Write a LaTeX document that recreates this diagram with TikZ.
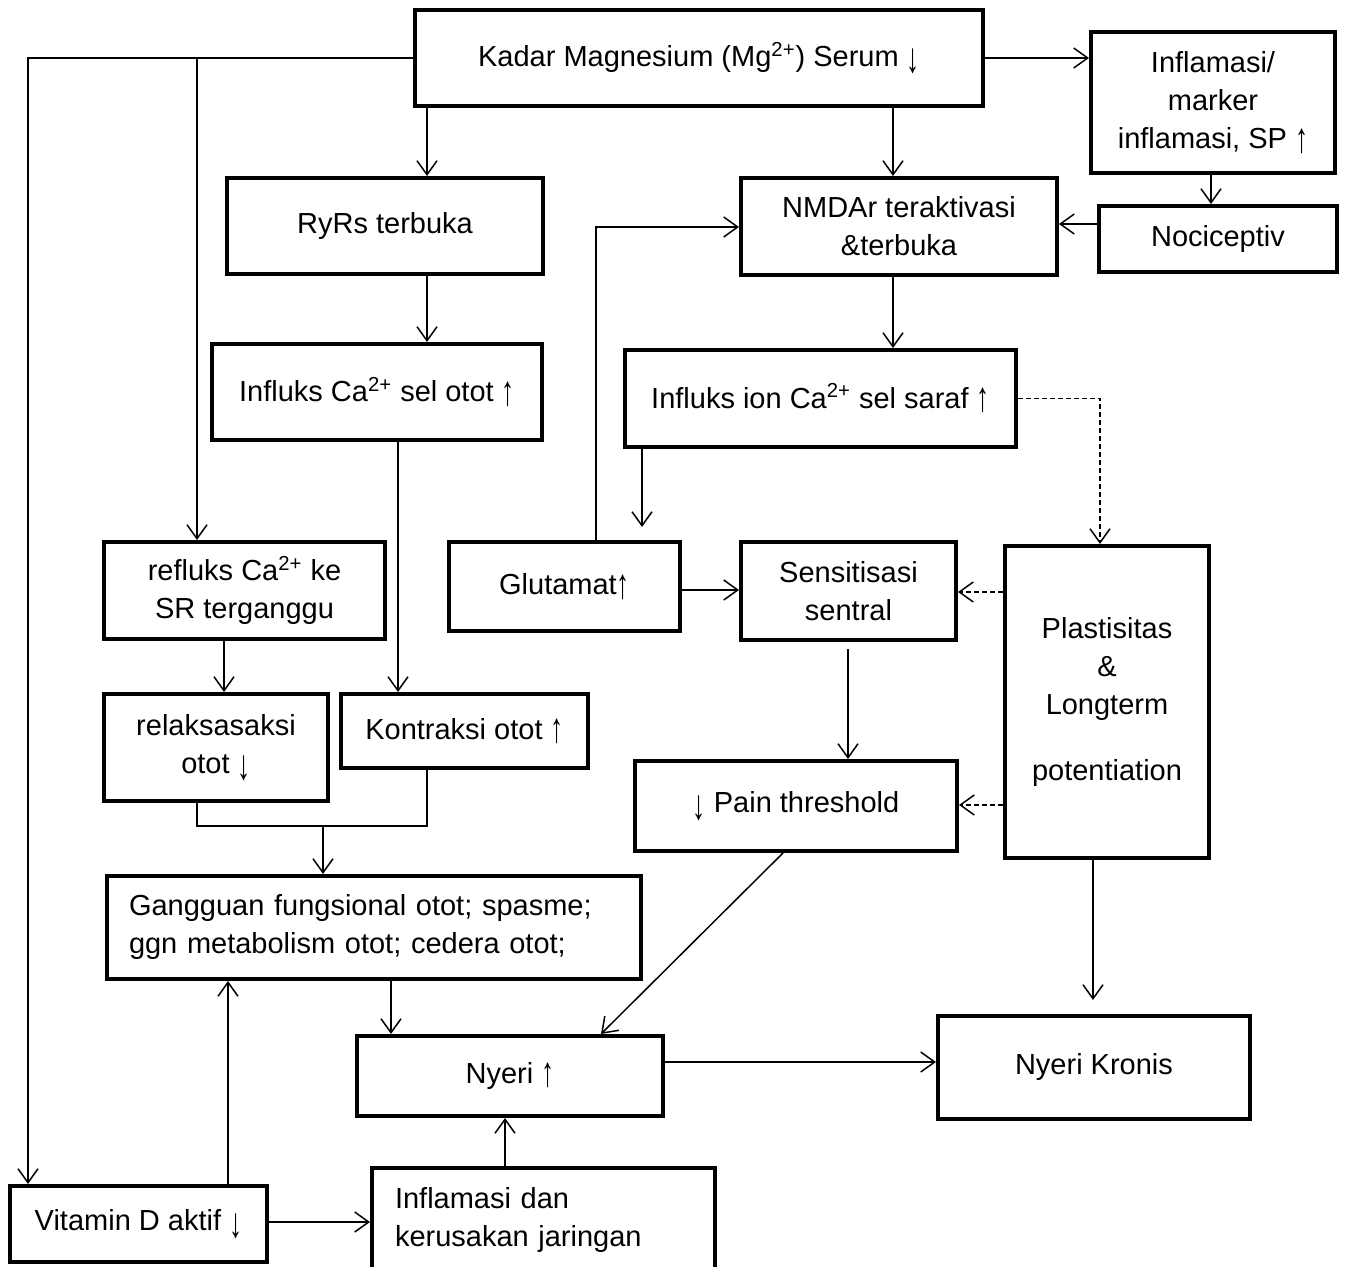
\documentclass[tikz,border=0pt]{standalone}
\usepackage{fontspec}
\setmainfont{Liberation Sans}
\usetikzlibrary{arrows.meta}
\newcommand\mybox[6]{\node[box,minimum width={(#4-#2)*0.5pt},minimum height={(#5-#3)*0.5pt}] (#1) at ({(#2+#4)/2},{(#3+#5)/2}) {#6};}
\newcommand\myup{\raisebox{-0.12em}{\scalebox{0.9}[1.45]{↑}}}
\newcommand\mydn{\raisebox{-0.22em}{\scalebox{0.9}[1.45]{↓}}}
\begin{document}
\begin{tikzpicture}[x=0.5pt,y=-0.5pt,
 box/.style={draw,line width=2pt,inner sep=0pt,align=center,font=\fontsize{14.5}{19}\selectfont},
 arr/.style={line width=0.75pt,-{Straight Barb[length=7pt,width=10pt]}},
 ln/.style={line width=0.75pt},
 dsh/.style={arr,dash pattern=on 2.5pt off 1.5pt}]
\useasboundingbox[fill=white] (0,0) rectangle (1346,1267);

\mybox{mg}{415}{10}{983}{106}{Kadar Magnesium (Mg\textsuperscript{2+}) Serum \mydn}
\mybox{infl}{1091}{32}{1335}{173}{Inflamasi/\\marker\\inflamasi, SP \myup}
\mybox{ryrs}{227}{178}{543}{274}{RyRs terbuka}
\mybox{nmda}{741}{178}{1057}{275}{NMDAr teraktivasi\\\&terbuka}
\mybox{noci}{1099}{206}{1337}{272}{Nociceptiv}
\mybox{otot}{212}{344}{542}{440}{Influks Ca\textsuperscript{2+} sel otot \myup}
\mybox{saraf}{625}{350}{1016}{447}{Influks ion Ca\textsuperscript{2+} sel saraf \myup}
\mybox{reflux}{104}{542}{385}{639}{refluks Ca\textsuperscript{2+} ke\\SR terganggu}
\mybox{glu}{449}{542}{680}{631}{Glutamat\myup}
\mybox{sens}{741}{542}{956}{640}{Sensitisasi\\sentral}
\mybox{plast}{1005}{546}{1209}{858}{Plastisitas\\\&\\Longterm\\[14pt]potentiation}
\mybox{relax}{104}{694}{328}{801}{relaksasaksi\\otot \mydn}
\mybox{kontr}{341}{694}{588}{768}{Kontraksi otot \myup}
\mybox{pain}{635}{761}{957}{851}{\mydn\ Pain threshold}
\node[box,align=left,text width=245pt,minimum width=267pt,minimum height=51.5pt] (gang) at (374,927.5)
 {Gangguan fungsional otot; spasme;\\ggn metabolism otot; cedera otot;};
\mybox{kronis}{938}{1016}{1250}{1119}{Nyeri Kronis}
\mybox{nyeri}{357}{1036}{663}{1116}{Nyeri \myup}
\mybox{vitd}{10}{1186}{267}{1262}{Vitamin D aktif \mydn}
\node[box,align=left,text width=148.5pt,minimum width=171.5pt,minimum height=52pt] (inkr) at (543.5,1220)
 {Inflamasi dan\\kerusakan jaringan};

\coordinate (gluend) at (642,527);
\coordinate (kronend) at (1093,1000);
\coordinate (mj) at (323,826);

\draw[arr] (mg.west) -| (vitd.north -| 28,0);
\draw[arr] (mg.west -| 197,0) -- (reflux.north -| 197,0);
\draw[arr] (mg.south -| 427,0) -- (ryrs.north -| 427,0);
\draw[arr] (mg.south -| 893,0) -- (nmda.north -| 893,0);
\draw[arr] (mg.east) -- (infl.west |- mg.east);
\draw[arr] (infl.south -| 1211,0) -- (noci.north -| 1211,0);
\draw[arr] (noci.west |- 0,224) -- (nmda.east |- 0,224);
\draw[arr] (ryrs.south -| 427,0) -- (otot.north -| 427,0);
\draw[arr] (otot.south -| 398,0) -- (kontr.north -| 398,0);
\draw[arr] (nmda.south -| 893,0) -- (saraf.north -| 893,0);
\draw[arr] (saraf.south -| gluend) -- (gluend);
\draw[arr] (glu.north -| 596,0) |- (nmda.west |- 0,227);
\draw[dsh] (saraf.east) -| (plast.north -| 1100,0);
\draw[arr] (glu.east |- 0,590) -- (sens.west |- 0,590);
\draw[dsh] (plast.west |- 0,592) -- (sens.east |- 0,592);
\draw[dsh] (plast.west |- 0,805) -- (pain.east |- 0,805);
\draw[arr] ([yshift=-3.5pt]sens.south -| 848,0) -- (pain.north -| 848,0);
\draw[arr] (plast.south -| kronend) -- (kronend);
\draw[arr] (reflux.south -| 224,0) -- (relax.north -| 224,0);
\draw[ln] (relax.south -| 197,0) |- (mj) -| (kontr.south -| 427,0);
\draw[arr] (mj) -- (gang.north -| mj);
\draw[arr] (gang.south -| 391,0) -- (nyeri.north -| 391,0);
\draw[arr] (pain.south -| 783,0) -- (nyeri.north -| 601,0);
\draw[arr] (nyeri.east |- 0,1062) -- (kronis.west |- 0,1062);
\draw[arr] (inkr.north -| 505,0) -- (nyeri.south -| 505,0);
\draw[arr] (vitd.north -| 228,0) -- (gang.south -| 228,0);
\draw[arr] (vitd.east |- 0,1222) -- (inkr.west |- 0,1222);
\end{tikzpicture}
\end{document}
